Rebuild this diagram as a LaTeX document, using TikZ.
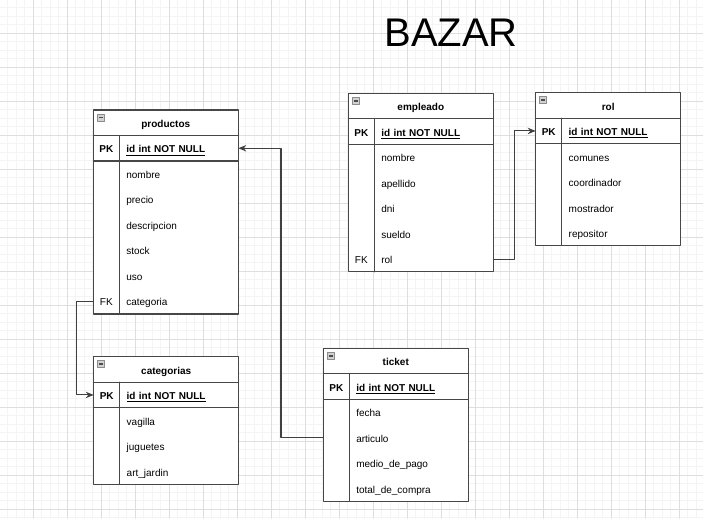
\documentclass[tikz,border=0pt]{standalone}
\usepackage{fontspec}
\setmainfont{Liberation Sans}
\usetikzlibrary{positioning,arrows.meta}
\begin{document}
\begin{tikzpicture}[x=0.75pt, y=-0.75pt, >={Stealth[length=6pt,width=4.8pt]}, line join=round, line cap=round,
	cellfont/.style={font=\fontsize{7.5}{9}\selectfont},
	keyfont/.style={font=\fontsize{7.5}{9}\selectfont\bfseries},
	headcell/.style={keyfont, fill=white, minimum width=108.75pt, minimum height=19.125pt, inner sep=0pt, outer sep=0pt, anchor=north west, text height=7pt, text depth=0pt},
	rowcell/.style={cellfont, fill=white, minimum height=19.125pt, inner xsep=24.75pt, inner ysep=0pt, outer sep=0pt, text width=59.25pt, align=left, text height=7pt, text depth=0pt},
	keycell/.style={cellfont, inner sep=0pt, text height=7pt, text depth=0pt},
	tblline/.style={draw=black!72, line width=0.8pt},
	conn/.style={draw=black!75, line width=0.8pt, ->},
	gridminor/.style={draw=black!4.5, line width=0.75pt},
	gridmajor/.style={draw=black!13, line width=0.75pt}]
	\def\W{703} \def\H{518}
	\useasboundingbox (0,0) rectangle (\W,\H);
	\fill[white] (0,0) rectangle (\W,\H);
	
	% grid
	\foreach \i in {0,...,82} \draw[gridminor] ({7.8+8.5*\i},0) -- ({7.8+8.5*\i},\H);
	\foreach \i in {0,...,61} \draw[gridminor] (0,{7.8+8.5*\i}) -- (\W,{7.8+8.5*\i});
	\foreach \i in {1,...,20} \draw[gridmajor] ({-0.7+34*\i},0) -- ({-0.7+34*\i},\H);
	\foreach \i in {1,...,15} \draw[gridmajor] (0,{-0.7+34*\i}) -- (\W,{-0.7+34*\i});
	
	% name, x, y, title, FK row, fields
	\def\erdtable#1#2#3#4#5#6{%
		\node[headcell] (#1) at (#2,#3) {#4};
		\node[rowcell, keyfont, below=0pt of #1, alias=#1-pk] (#1-r0) {\underline{id int NOT NULL}};
		\node[keycell, keyfont] (#1-pkkey) at ([xshift=9.75pt]#1-pk.west) {PK};
		\foreach \f [count=\n] in {#6} {
			\pgfmathtruncatemacro\p{\n-1}
			\node[rowcell, below=0pt of #1-r\p] (#1-r\n) {\f};
			\ifnum\n=#5 \node[keycell] (#1-fk) at ([xshift=9.75pt]#1-r\n.west) {FK};\fi
			\xdef\erdlast{\n}
		}
		\draw[tblline] (#1.north west) rectangle (#1-r\erdlast.south east);
		\draw[tblline] (#1.south west) -- (#1.south east);
		\draw[tblline] (#1-pk.south west) -- (#1-pk.south east);
		\draw[tblline] ([xshift=19.5pt]#1.south west) -- ([xshift=19.5pt]#1-r\erdlast.south west);
		\draw[fill=black!18, draw=black!45, line width=0.6pt] ([shift={(4,4)}]#1.north west) rectangle ++(7,7);
		\draw[black!70, line width=1.1pt, line cap=butt] ([shift={(5.5,7.5)}]#1.north west) -- ++(4,0);
	}
	
	\node[font=\fontsize{30}{36}\selectfont] (title) at (451,33) {BAZAR};
	
	\erdtable{prod}{93.3}{110}{productos}{6}{nombre, precio, descripcion, stock, uso, categoria}
	\erdtable{emp}{348.3}{93.3}{empleado}{5}{nombre, apellido, dni, sueldo, rol}
	\erdtable{rol}{535.7}{92.7}{rol}{0}{comunes, coordinador, mostrador, repositor}
	\erdtable{cat}{93.7}{356.7}{categorias}{0}{vagilla, juguetes, art\_jardin}
	\erdtable{tick}{323.3}{348.3}{ticket}{0}{fecha, articulo, medio\_de\_pago, total\_de\_compra}
	
	\draw[conn] (prod-r6.west) -- ++(-16.6,0) |- (cat-pk.west);
	\draw[conn] (tick-r2.west) -- ++(-42.3,0) |- (prod-pk.east);
	\draw[conn] (emp-r5.east) -- ++(21,0) |- (rol-pk.west);
\end{tikzpicture}
\end{document}
